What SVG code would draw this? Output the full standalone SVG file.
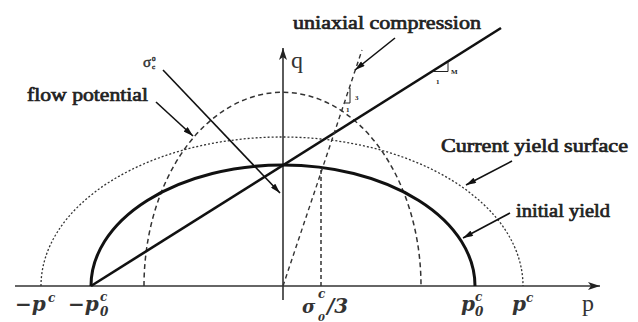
<svg xmlns="http://www.w3.org/2000/svg" width="638" height="322" viewBox="0 0 638 322">
<defs>
<marker id="ah" viewBox="0 0 10 6" refX="10" refY="3" markerWidth="11" markerHeight="6" markerUnits="userSpaceOnUse" orient="auto"><path d="M0,0 L10,3 L0,6 z" fill="#111"/></marker>
<marker id="ax" viewBox="0 0 12 8" refX="12" refY="4" markerWidth="12" markerHeight="8" markerUnits="userSpaceOnUse" orient="auto"><path d="M0,0 L12,4 L0,8 L3,4 z" fill="#222"/></marker>
</defs>
<style>
.lbl{font-family:'Liberation Serif',serif;font-weight:normal;font-size:19px;fill:#222;stroke:#222;stroke-width:0.7}
.m{font-family:'DejaVu Serif',serif;font-style:italic;font-weight:bold;fill:#333}
.mr{font-family:'Liberation Serif',serif;fill:#333;stroke:#333;stroke-width:0.5}
.ax{font-family:'Liberation Serif',serif;font-size:24px;fill:#333}
.tiny{font-family:'Liberation Serif',serif;font-weight:bold;font-size:7px;fill:#222}
.ptr{stroke:#111;stroke-width:1.6;fill:none;marker-end:url(#ah)}
</style>
<rect width="638" height="322" fill="#fff"/>

<g id="axes" stroke="#333" stroke-width="1.6" fill="none">
<line x1="15" y1="286" x2="600" y2="286" marker-end="url(#ax)"/>
<line x1="283" y1="300" x2="283" y2="48" marker-end="url(#ax)"/>
</g>

<g id="current-yield-surface">
<path d="M41,286 A241,149 0 0 1 523,286" fill="none" stroke="#333" stroke-width="1.3" stroke-dasharray="2,2"/>
</g>
<g id="flow-potential">
<path d="M144,286 A138,193 0 0 1 421,286" fill="none" stroke="#333" stroke-width="1.5" stroke-dasharray="5,3.5"/>
</g>
<g id="initial-yield">
<path d="M91,286 A192,121 0 0 1 475,286" fill="none" stroke="#111" stroke-width="3"/>
</g>
<g id="slope-line">
<line x1="91" y1="286" x2="501" y2="28" stroke="#111" stroke-width="2.6"/>
<path d="M433,71.5 H448 V62" fill="none" stroke="#222" stroke-width="1"/>
<text class="tiny" x="436" y="84">1</text>
<text class="tiny" x="451" y="74">M</text>
</g>
<g id="uniaxial-line">
<line x1="283" y1="286" x2="362" y2="50" stroke="#333" stroke-width="1.4" stroke-dasharray="4.5,3.5"/>
<path d="M345,103 H350 V88" fill="none" stroke="#222" stroke-width="1"/>
<text class="tiny" x="355" y="100">3</text>
<text class="tiny" x="346" y="112">1</text>
</g>
<g id="sigma-third-line">
<line x1="321" y1="170" x2="321" y2="286" stroke="#333" stroke-width="1.5" stroke-dasharray="4,3"/>
</g>

<g id="connectors">
<line class="ptr" x1="156" y1="102" x2="193" y2="136"/>
<line class="ptr" x1="163" y1="70" x2="280" y2="193"/>
<line class="ptr" x1="395" y1="38" x2="355" y2="70"/>
<line class="ptr" x1="512" y1="161" x2="466" y2="185"/>
<line class="ptr" x1="510" y1="213" x2="463" y2="238"/>
</g>

<g id="labels">
<text class="lbl" x="27" y="101" textLength="121" lengthAdjust="spacingAndGlyphs">flow potential</text>
<text class="lbl" x="293" y="29" textLength="188" lengthAdjust="spacingAndGlyphs">uniaxial compression</text>
<text class="lbl" x="441" y="152" textLength="187" lengthAdjust="spacingAndGlyphs">Current yield surface</text>
<text class="lbl" x="516" y="217" textLength="94" lengthAdjust="spacingAndGlyphs">initial yield</text>
<g id="sigma-label">
<text class="mr" x="143" y="67" font-size="15">σ</text>
<text class="mr" x="152" y="61" font-size="7">0</text>
<text class="mr" x="152" y="69" font-size="7">c</text>
</g>
<text class="ax" x="291" y="68">q</text>
<text class="ax" x="582" y="311">p</text>
<g id="neg-pc"><text class="m" x="15" y="311" font-size="20">−p</text><text class="m" x="48" y="302" font-size="12">c</text></g>
<g id="neg-p0c"><text class="m" x="68" y="311" font-size="20">−p</text><text class="m" x="100" y="301" font-size="12">c</text><text class="m" x="100" y="316" font-size="12">0</text></g>
<g id="sigma-third"><text class="m" x="302" y="313" font-size="18">σ</text><text class="m" x="318" y="298" font-size="12">c</text><text class="m" x="318" y="321" font-size="10">0</text><text class="m" x="327" y="313" font-size="20">/3</text></g>
<g id="p0c"><text class="m" x="461" y="311" font-size="20">p</text><text class="m" x="475" y="301" font-size="12">c</text><text class="m" x="475" y="316" font-size="12">0</text></g>
<g id="pc"><text class="m" x="512" y="311" font-size="20">p</text><text class="m" x="526" y="302" font-size="12">c</text></g>
</g>
</svg>
